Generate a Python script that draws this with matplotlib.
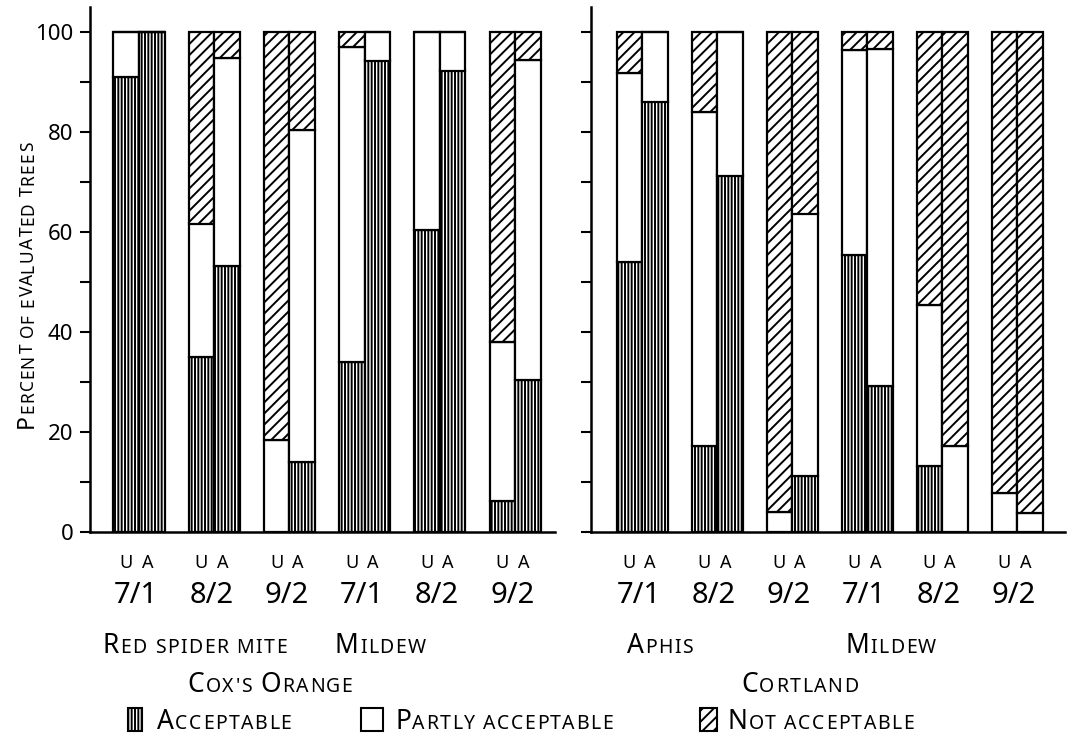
import matplotlib
matplotlib.use('Agg')
import matplotlib.pyplot as plt
from matplotlib.patches import Rectangle
from matplotlib.transforms import IdentityTransform, blended_transform_factory
import numpy as np

# 字体与阴影线设置
FONT = ['Noto Sans', 'DejaVu Sans']
plt.rcParams['font.family'] = FONT
plt.rcParams['hatch.linewidth'] = 1.4

W, H = 1068, 740

# ---- 数据（从图上读取，百分比） ----
dates = ['7/1', '8/2', '9/2', '7/1', '8/2', '9/2']
cox_pests = ['Red spider mite', 'Mildew']
cort_pests = ['Aphis', 'Mildew']

cox_U_acc = [91.0, 35.0, 0.0, 34.0, 60.4, 6.2]
cox_U_part = [9.0, 26.7, 18.4, 62.9, 39.6, 31.8]
cox_U_not = [0.0, 38.3, 81.6, 3.1, 0.0, 62.0]
cox_A_acc = [100.0, 53.1, 14.1, 94.3, 92.3, 30.4]
cox_A_part = [0.0, 41.7, 66.3, 5.7, 7.7, 64.0]
cox_A_not = [0.0, 5.2, 19.6, 0.0, 0.0, 5.6]

cort_U_acc = [54.0, 17.3, 0.0, 55.3, 13.2, 0.0]
cort_U_part = [37.7, 66.7, 4.1, 41.1, 32.2, 7.9]
cort_U_not = [8.3, 16.0, 95.9, 3.6, 54.6, 92.1]
cort_A_acc = [86.1, 71.3, 11.2, 29.2, 0.0, 0.0]
cort_A_part = [13.9, 28.7, 52.5, 67.4, 17.3, 3.8]
cort_A_not = [0.0, 0.0, 36.3, 3.4, 82.7, 96.2]

cultivars = ["Cox's Orange", 'Cortland']
legend_labels = ['Acceptable', 'Partly acceptable', 'Not acceptable']

HATCH_ACC = '|||||'
HATCH_NOT = '///'

fig = plt.figure(figsize=(W / 100, H / 100), dpi=100)
ax1 = fig.add_axes([90 / W, (H - 532) / H, 465 / W, 525 / H])
ax2 = fig.add_axes([591 / W, (H - 532) / H, 474 / W, 525 / H])
ax1.set_xlim(-0.652, 5.53)
ax2.set_xlim(-0.68, 5.64)

bw = 0.34
x = np.arange(6)


def stack(ax, xs, acc, part, notacc):
    acc = np.array(acc)
    part = np.array(part)
    notacc = np.array(notacc)
    kw = dict(width=bw, facecolor='white', edgecolor='black', linewidth=1.6)
    ax.bar(xs, acc, hatch=HATCH_ACC, **kw)
    ax.bar(xs, part, bottom=acc, **kw)
    ax.bar(xs, notacc, bottom=acc + part, hatch=HATCH_NOT, **kw)


stack(ax1, x - bw / 2, cox_U_acc, cox_U_part, cox_U_not)
stack(ax1, x + bw / 2, cox_A_acc, cox_A_part, cox_A_not)
stack(ax2, x - bw / 2, cort_U_acc, cort_U_part, cort_U_not)
stack(ax2, x + bw / 2, cort_A_acc, cort_A_part, cort_A_not)

for ax in (ax1, ax2):
    ax.set_ylim(0, 105)
    ax.spines[['top', 'right']].set_visible(False)
    for s in ('left', 'bottom'):
        ax.spines[s].set_linewidth(1.8)
    ax.set_xticks([])
    ax.set_yticks(np.arange(0, 101, 10))
    ax.tick_params(axis='y', length=7, width=1.5, pad=5, labelsize=16)
    ax.patch.set_alpha(0)

ax1.set_yticklabels(['0', '', '20', '', '40', '', '60', '', '80', '', '100'])
ax2.set_yticklabels([])

renderer = fig.canvas.get_renderer()
PX = IdentityTransform()


def caps(x0, y0, s, big=19, small=14, track=1.5, gap=0.35, ha='left', rot=0):
    # 小型大写字母：逐字排版，x0/y0 为基线像素（y 从上往下）
    items = []
    for ch in s:
        if ch == ' ':
            items.append((None, small * 100 / 72 * gap))
            continue
        size = big if ch.isupper() else small
        t = fig.text(0, 0, ch.upper(), fontsize=size, transform=PX,
                     ha='left', va='baseline', rotation_mode='anchor')
        w = t.get_window_extent(renderer).width
        items.append((t, w + track))
    total = sum(w for _, w in items) - track
    pos = -total / 2 if ha == 'center' else 0
    dx, dy = (0, 1) if rot == 90 else (1, 0)
    for t, w in items:
        if t is not None:
            t.set_position((x0 + dx * pos, (H - y0) + dy * pos))
            t.set_rotation(rot)
        pos += w


def px(ax, xd):
    return ax.transData.transform((xd, 0))[0]


# U / A 与日期
for ax in (ax1, ax2):
    tr = blended_transform_factory(ax.transData, PX)
    for i in x:
        ax.text(i - 0.17, H - 568, 'U', transform=tr, ha='center', va='baseline', fontsize=13)
        ax.text(i + 0.11, H - 568, 'A', transform=tr, ha='center', va='baseline', fontsize=13)
        ax.text(i - 0.04, H - 603, dates[i], transform=tr, ha='center', va='baseline', fontsize=21)

# 病虫害名称
caps(px(ax1, -0.49), 653, cox_pests[0])
caps(px(ax1, 2.6), 653, cox_pests[1])
caps(px(ax2, -0.2), 653, cort_pests[0])
caps(px(ax2, 2.71), 653, cort_pests[1])

# 品种名称
caps(px(ax1, 1.74), 692, cultivars[0], ha='center')
caps(px(ax2, 2.1), 692, cultivars[1], ha='center')

# 纵轴标题
caps(33, 285, 'Percent of evaluated trees', big=16.5, small=12.5, track=1.2, gap=0.3,
     ha='center', rot=90)

# 图例
leg = [(128, 14, HATCH_ACC, 157), (361, 22, None, 395), (700, 17, HATCH_NOT, 727)]
for (lx, lw, hatch, tx), lab in zip(leg, legend_labels):
    fig.add_artist(Rectangle((lx, H - 731), lw, 23, transform=PX, facecolor='white',
                             edgecolor='black', linewidth=1.5, hatch=hatch))
    caps(tx, 729, lab)

plt.savefig('out.png', dpi=100)
